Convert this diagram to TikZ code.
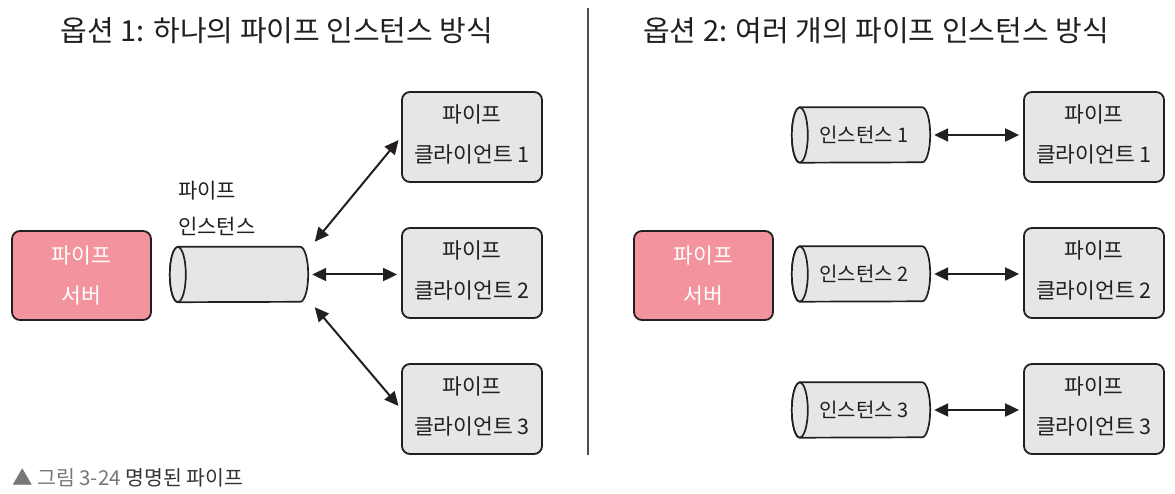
\documentclass[tikz,border=0pt]{standalone}
\usepackage{fontspec}
\setmainfont{Noto Sans CJK KR}
\usetikzlibrary{arrows.meta,backgrounds}
\definecolor{ink}{HTML}{231F20}
\definecolor{pinkfill}{HTML}{F2939D}
\definecolor{greyfill}{HTML}{E6E6E6}
\definecolor{capgrey}{HTML}{777777}
\definecolor{capdark}{HTML}{333333}
\newcommand\drawcyl[1]{%
  \draw[cylstyle] ([xshift=8pt]#1.north west) -- ([xshift=-8pt]#1.north east)
     arc(-90:90:8 and 27.5) -- ([xshift=8pt]#1.south west)
     arc(90:270:8 and 27.5) -- cycle;
  \draw[cylstyle] ([xshift=8pt]#1.west) ellipse (8 and 27.5);}
\begin{document}
\begin{tikzpicture}[x=1pt,y=-1pt,
  titletext/.style={font=\fontsize{29}{33}\selectfont, text=ink, inner sep=0pt},
  boxtext/.style={font=\fontsize{21.5}{40}\selectfont, align=center},
  serverbox/.style={boxtext, draw=ink, line width=1.8pt, fill=pinkfill, text=white,
     rounded corners=8pt, minimum width=139pt, minimum height=89pt, inner sep=0pt},
  clientbox/.style={boxtext, draw=ink, line width=1.8pt, fill=greyfill, text=ink,
     rounded corners=8pt, minimum width=140pt, minimum height=90pt, inner sep=0pt, text depth=7pt},
  cylnode/.style={font=\fontsize{20}{24}\selectfont, text=ink, minimum width=138pt,
     minimum height=55pt, inner sep=0pt},
  cylstyle/.style={draw=ink, line width=1.7pt, fill=greyfill},
  arr/.style={{Triangle[length=14pt,width=13pt]}-{Triangle[length=14pt,width=13pt]},
     line width=2pt, draw=ink, shorten <=4pt, shorten >=4pt},
  divider/.style={draw=ink!80, line width=2pt}]
\useasboundingbox (0,0) rectangle (1175,494);
% titles
\node[titletext] (t1) at (277,31) {옵션 1: 하나의 파이프 인스턴스 방식};
\node[titletext] (t2) at (876,31) {옵션 2: 여러 개의 파이프 인스턴스 방식};
\draw[divider] (588,8) -- (588,455);
% left side
\node[serverbox] (ls) at (81.5,275.5) {파이프\\서버};
\node[cylnode] (lcyl) at (239,274.5) {};
\begin{scope}[on background layer]\drawcyl{lcyl}\end{scope}
\node[boxtext, font=\fontsize{21}{36}\selectfont, text=ink, align=left, anchor=south west, inner sep=0pt] (llab) at (178,236)
   {파이프\\인스턴스};
\node[clientbox] (lc1) at (472,137) {파이프\\클라이언트 1};
\node[clientbox] (lc2) at (472,273) {파이프\\클라이언트 2};
\node[clientbox] (lc3) at (472,409) {파이프\\클라이언트 3};
\draw[arr] ([shift={(4,-2)}]lcyl.north east) -- (lc1.west);
\draw[arr] (lcyl.east) -- (lcyl.east -| lc2.west);
\draw[arr] ([shift={(4,2)}]lcyl.south east) -- (lc3.west);
% right side
\node[serverbox] (rs) at (703.5,275.5) {파이프\\서버};
\node[cylnode] (rcyl1) at (861,135) {\hspace*{6pt}인스턴스 1};
\node[cylnode] (rcyl2) at (861,274) {\hspace*{6pt}인스턴스 2};
\node[cylnode] (rcyl3) at (861,410) {\hspace*{6pt}인스턴스 3};
\begin{scope}[on background layer]\drawcyl{rcyl1}\drawcyl{rcyl2}\drawcyl{rcyl3}\end{scope}
\node[clientbox] (rc1) at (1094,137) {파이프\\클라이언트 1};
\node[clientbox] (rc2) at (1094,273) {파이프\\클라이언트 2};
\node[clientbox] (rc3) at (1094,409) {파이프\\클라이언트 3};
\draw[arr] (rcyl1.east) -- (rcyl1.east -| rc1.west);
\draw[arr] (rcyl2.east) -- (rcyl2.east -| rc2.west);
\draw[arr] (rcyl3.east) -- (rcyl3.east -| rc3.west);
% caption
\node[anchor=west, inner sep=0pt, font=\fontsize{20.5}{24}\selectfont] (cap) at (12,478)
   {\textcolor{capgrey}{▲ 그림 3-24} \textcolor{capdark}{명명된 파이프}};
\end{tikzpicture}
\end{document}
